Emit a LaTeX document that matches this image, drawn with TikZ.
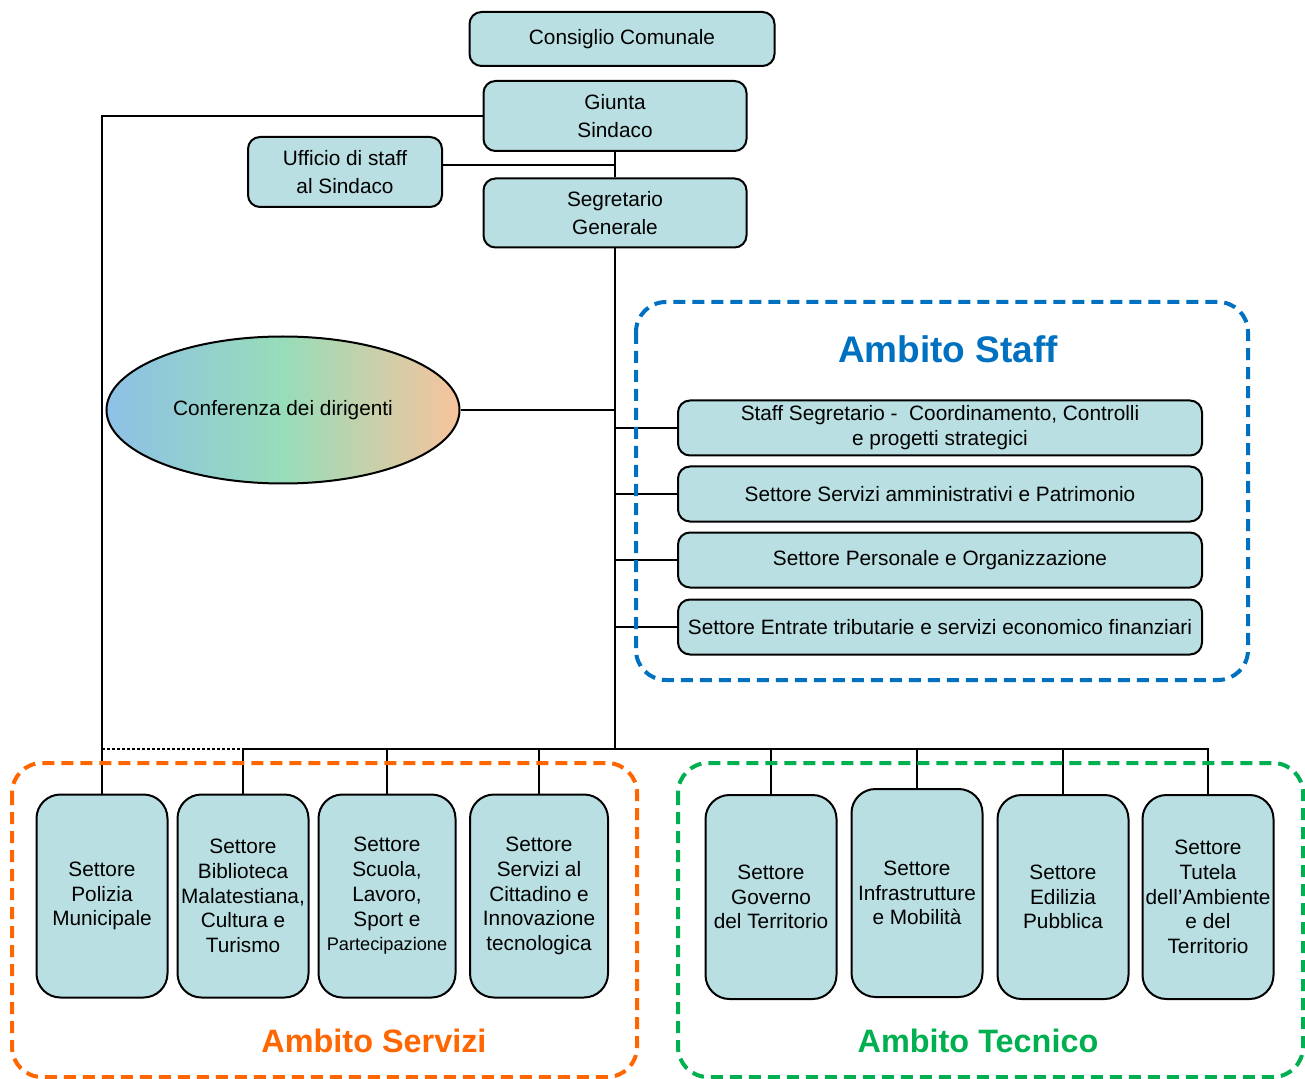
\documentclass[tikz,border=0pt]{standalone}
\usepackage{fontspec}
\setmainfont{Liberation Sans}
\usetikzlibrary{shapes.geometric}
\definecolor{boxfill}{RGB}{185,223,226}
\definecolor{staffblue}{RGB}{0,112,192}
\definecolor{servorange}{RGB}{255,102,0}
\definecolor{tecgreen}{RGB}{0,176,80}

\begin{document}
\begin{tikzpicture}[x=0.5pt,y=-0.5pt,line width=1pt,
  capo/.style={draw,fill=boxfill,rounded corners=6pt,align=center,inner sep=0pt,
    font=\fontsize{10.4}{14}\selectfont},
  staff/.style={draw,fill=boxfill,rounded corners=6pt,align=center,inner sep=0pt,
    minimum width=262pt,minimum height=27.5pt,font=\fontsize{10.4}{12.4}\selectfont},
  settore/.style={draw,fill=boxfill,rounded corners=12pt,align=center,inner sep=0pt,
    minimum width=65.5pt,minimum height=101.5pt,font=\fontsize{10.4}{12.4}\selectfont},
  ambito/.style={line width=2pt,dash pattern=on 6pt off 3.5pt,rounded corners=15pt},
  titolo/.style={font=\fontsize{16.2}{20}\bfseries\selectfont}]
\useasboundingbox (0,0) rectangle (1305,1079);

% vertici
\node[capo,minimum width=152.5pt,minimum height=27pt] (cc) at (622,39) {Consiglio Comunale};
\node[capo,minimum width=131.5pt,minimum height=35pt] (giunta) at (615,116) {Giunta\\Sindaco};
\node[capo,minimum width=97pt,minimum height=35pt] (ufficio) at (345,172) {Ufficio di staff\\al Sindaco};
\node[capo,minimum width=131.5pt,minimum height=34.5pt] (segr) at (615,213) {Segretario\\Generale};
\node[ellipse,draw,minimum width=176.5pt,minimum height=73.5pt,inner sep=0pt,
  left color={rgb,255:red,142;green,192;blue,230},right color={rgb,255:red,247;green,195;blue,156},
  middle color={rgb,255:red,151;green,221;blue,185},font=\fontsize{10.4}{12.4}\selectfont]
  (conf) at (283,410) {Conferenza dei dirigenti};

% ambito staff
\node[staff] (s1) at (940,428) {Staff Segretario -\ \ Coordinamento, Controlli\\e progetti strategici};
\node[staff] (s2) at (940,494) {Settore Servizi amministrativi e Patrimonio};
\node[staff] (s3) at (940,560) {Settore Personale e Organizzazione};
\node[staff] (s4) at (940,627) {Settore Entrate tributarie e servizi economico finanziari};

% settori
\node[settore] (pol) at (102,896) {Settore\\Polizia\\Municipale};
\node[settore] (bib) at (243,896) {Settore\\Biblioteca\\Malatestiana,\\Cultura e\\Turismo};
\node[settore,minimum width=68.5pt] (scu) at (387,896) {Settore\\Scuola,\\Lavoro,\\Sport e\\{\fontsize{9.1}{12.4}\selectfont Partecipazione}};
\node[settore,minimum width=69pt] (cit) at (539,896) {Settore\\Servizi al\\Cittadino e\\Innovazione\\tecnologica};
\node[settore,minimum height=102pt] (gov) at (771,897) {Settore\\Governo\\del Territorio};
\node[settore,minimum height=104pt] (inf) at (917,893) {Settore\\Infrastrutture\\e Mobilità};
\node[settore,minimum height=102pt] (edi) at (1063,897) {Settore\\Edilizia\\Pubblica};
\node[settore,minimum height=102pt] (tut) at (1208,897) {Settore\\Tutela\\dell’Ambiente\\e del\\Territorio};

% collegamenti
\coordinate (bus) at (615,749);
\draw (giunta.west) -| (pol.north);
\draw (giunta.south) -- (segr.north);
\draw ([yshift=3.5pt]ufficio.east) -- ([yshift=3.5pt]ufficio.east -| giunta.south);
\draw (segr.south) -- (bus);
\draw (conf.east) -- (conf.east -| segr.south);
\draw (s1.west) -- (s1.west -| segr.south);
\draw (s2.west) -- (s2.west -| segr.south);
\draw (s3.west) -- (s3.west -| segr.south);
\draw (s4.west) -- (s4.west -| segr.south);
\draw (bib.north) -- (bib.north |- bus) -- (tut.north |- bus) -- (tut.north);
\draw (scu.north) -- (scu.north |- bus);
\draw (cit.north) -- (cit.north |- bus);
\draw (gov.north) -- (gov.north |- bus);
\draw (inf.north) -- (inf.north |- bus);
\draw (edi.north) -- (edi.north |- bus);
\draw[line width=0.7pt,dash pattern=on 1.5pt off 1pt] (pol.north |- bus) -- (bib.north |- bus);

% ambiti
\draw[ambito,staffblue] (636,302) rectangle (1248,680);
\node[titolo,staffblue,font=\fontsize{18.5}{22}\bfseries\selectfont] (tstaff) at (948,349) {Ambito Staff};
\draw[ambito,servorange] (12,763) rectangle (637,1077);
\node[titolo,servorange] (tserv) at (374,1041) {Ambito Servizi};
\draw[ambito,tecgreen] (678,763) rectangle (1303,1077);
\node[titolo,tecgreen] (ttec) at (978,1041) {Ambito Tecnico};
\end{tikzpicture}
\end{document}
